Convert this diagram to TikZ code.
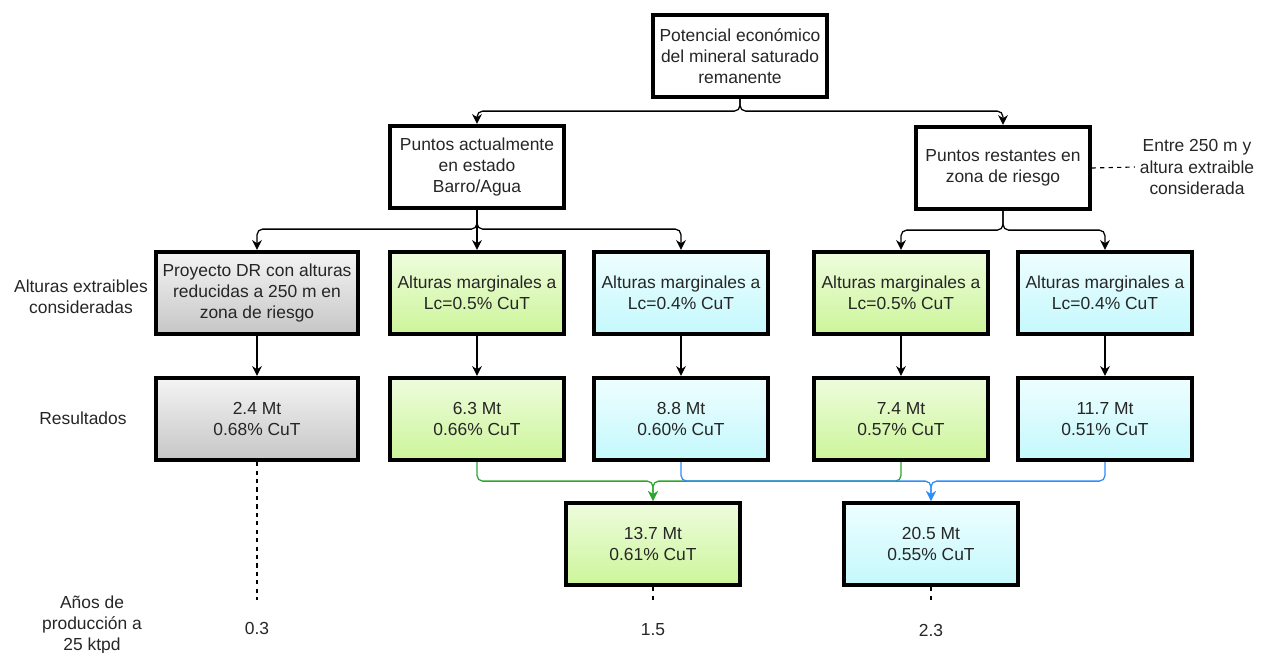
\documentclass[tikz,border=0pt]{standalone}
\usepackage{fontspec}
\setmainfont{Liberation Sans}
\usetikzlibrary{arrows.meta}

\definecolor{greentop}{HTML}{EEFCDD}
\definecolor{greenbot}{HTML}{CCF59A}
\definecolor{bluetop}{HTML}{EEFEFF}
\definecolor{bluebot}{HTML}{C4F8FC}
\definecolor{greytop}{HTML}{F4F4F4}
\definecolor{greybot}{HTML}{C6C6C6}
\definecolor{linkgreen}{HTML}{2EA52E}
\definecolor{linkblue}{HTML}{2D8CFF}

\tikzset{
  box/.style={draw, line width=3pt, minimum width=4.33cm, minimum height=2.05cm,
    align=center, inner sep=2pt, text=black!85, font=\fontsize{12.4}{15}\selectfont},
  greenbox/.style={box, top color=greentop, bottom color=greenbot},
  bluebox/.style={box, top color=bluetop, bottom color=bluebot},
  greybox/.style={box, minimum width=5.05cm, top color=greytop, bottom color=greybot},
  note/.style={align=center, text=black!85, font=\fontsize{12.4}{15}\selectfont},
  link/.style={line width=0.9pt, rounded corners=4pt, -{Stealth[length=7pt,width=7pt]}},
  guide/.style={line width=0.8pt, dash pattern=on 3pt off 3pt},
}

\begin{document}
\begin{tikzpicture}[x=0.025cm, y=-0.025cm]
\useasboundingbox (0,0) rectangle (1263,652);

% upper part of the tree
\node [box] (pot) at (740,56) {Potencial económico\\del mineral saturado\\remanente};
\node [box] (act) at (477,167) {Puntos actualmente\\en estado\\Barro/Agua};
\node [box] (rest) at (1003,168) {Puntos restantes en\\zona de riesgo};

% alturas extraibles
\node [greybox] (dr) at (257,293) {Proyecto DR con alturas\\reducidas a 250 m en\\zona de riesgo};
\node [greenbox] (mga) at (477,293) {Alturas marginales a\\Lc=0.5\% CuT};
\node [bluebox] (mba) at (681,293) {Alturas marginales a\\Lc=0.4\% CuT};
\node [greenbox] (mgb) at (901,293) {Alturas marginales a\\Lc=0.5\% CuT};
\node [bluebox] (mbb) at (1105,293) {Alturas marginales a\\Lc=0.4\% CuT};

% resultados
\node [greybox] (rdr) at (257,419) {2.4 Mt\\0.68\% CuT};
\node [greenbox] (rmga) at (477,419) {6.3 Mt\\0.66\% CuT};
\node [bluebox] (rmba) at (681,419) {8.8 Mt\\0.60\% CuT};
\node [greenbox] (rmgb) at (901,419) {7.4 Mt\\0.57\% CuT};
\node [bluebox] (rmbb) at (1105,419) {11.7 Mt\\0.51\% CuT};

\node [greenbox] (tga) at (653,544) {13.7 Mt\\0.61\% CuT};
\node [bluebox] (tba) at (931,544) {20.5 Mt\\0.55\% CuT};

% texts at the side
\node [note] (ext) at (81,297) {Alturas extraibles\\consideradas};
\node [note] (resu) at (83,418) {Resultados};
\node [note] (anos) at (92,625) {Años de\\producción a\\25 ktpd};
\node [note] (y03) at (257,628) {0.3};
\node [note] (y15) at (653,630) {1.5};
\node [note] (y23) at (931,630) {2.3};
\node [note] (entre) at (1197,167) {Entre 250 m y\\altura extraible\\considerada};

% connectors
\draw [link] (pot.south) -- ++(0,12) -| (act.north);
\draw [link] (pot.south) -- ++(0,12) -| (rest.north);
\draw [link] (act.south) -- ++(0,19) -| (dr.north);
\draw [link] (act.south) -- (mga.north);
\draw [link] (act.south) -- ++(0,19) -| (mba.north);
\draw [link] (rest.south) -- ++(0,19) -| (mgb.north);
\draw [link] (rest.south) -- ++(0,19) -| (mbb.north);
\foreach \a/\b in {dr/rdr, mga/rmga, mba/rmba, mgb/rmgb, mbb/rmbb}
  \draw [link] (\a) -- (\b);

\draw [link, linkgreen] (rmga.south) -- ++(0,19) -| (tga.north);
\draw [link, linkgreen] (rmgb.south) -- ++(0,19) -| (tga.north);
\draw [link, linkblue] (rmba.south) -- ++(0,19) -| (tba.north);
\draw [link, linkblue] (rmbb.south) -- ++(0,19) -| (tba.north);

% dashed guides
\draw [guide] (rest.east) -- (entre.west);
\draw [guide, shorten >=12pt] (rdr.south) -- (y03.north);
\draw [guide, shorten >=12pt] (tga.south) -- (y15.north);
\draw [guide, shorten >=12pt] (tba.south) -- (y23.north);
\end{tikzpicture}
\end{document}
